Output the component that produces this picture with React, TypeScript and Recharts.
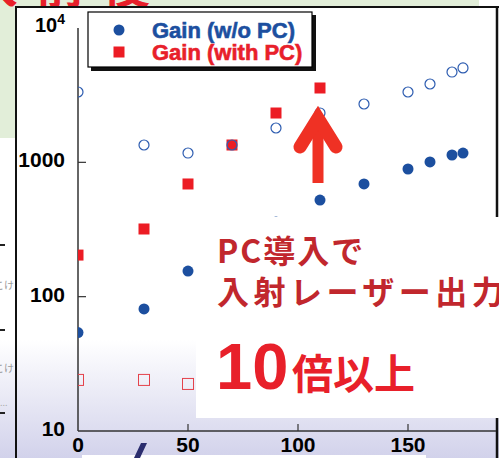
import React from 'react';
import { ScatterChart, Scatter, XAxis, YAxis } from 'recharts';

// pump power (x) and gain (y)
const filledBlueX = [0, 30, 50, 90, 110, 130, 150, 160, 170, 175];
const filledBlueY = [54, 81, 155, 359, 524, 690, 892, 1006, 1134, 1173];

const openBlueX = [0, 30, 50, 70, 90, 110, 130, 150, 160, 170, 175];
const openBlueY = [3339, 1346, 1173, 1346, 1801, 2330, 2718, 3339, 3829, 4702, 5041];

const filledRedX = [0, 30, 50, 70, 90, 110];
const filledRedY = [204, 319, 690, 1346, 2329, 3576];

const openRedX = [0, 30, 50];
const openRedY = [24, 24, 22.4];

const xTicks = [0, 50, 100, 150];
const yTicks = [10, 100, 1000, 10000];

const BLUE = '#1c4f9f';
const RED = '#ec1c24';
const W = 499;
const H = 458;

const toPoints = (xs: number[], ys: number[]) => xs.map((x, i) => ({ x, y: ys[i] }));

const FilledDot = (p: any) => <circle cx={p.cx} cy={p.cy} r={5.5} fill={BLUE} />;
const OpenDot = (p: any) => <circle cx={p.cx} cy={p.cy} r={5} fill="none" stroke="#2d5cb0" strokeWidth={1.2} />;
const FilledSquare = (p: any) => <rect x={p.cx - 5.5} y={p.cy - 5.5} width={11} height={11} fill={RED} />;
const OpenSquare = (p: any) => (
  <rect x={p.cx - 5.5} y={p.cy - 5.5} width={11} height={11} fill="none" stroke="#e4424b" strokeWidth={1} />
);

const labelFont = { fontFamily: '"Liberation Sans", Arial, sans-serif', fontWeight: 700 };

function YTick({ x, y, payload }: any) {
  const v = payload.value;
  if (v === 10000) {
    return (
      <text x={x - 13} y={y + 4} textAnchor="end" fontSize={20} fill="#000" style={labelFont}>
        10<tspan dy={-8} fontSize={14}>4</tspan>
      </text>
    );
  }
  return (
    <g>
      {v !== 10 && <line x1={x} x2={x + 8} y1={y} y2={y} stroke="#333" strokeWidth={1.2} />}
      <text x={x - 13} y={y + 5} textAnchor="end" fontSize={21} fill="#000" style={labelFont}>
        {v}
      </text>
    </g>
  );
}

function XTick({ x, y, payload }: any) {
  return (
    <g>
      {payload.value !== 0 && <line x1={x} x2={x} y1={y} y2={y - 7} stroke="#333" strokeWidth={1.2} />}
      <text x={x} y={y + 21} textAnchor="middle" fontSize={21} fill="#000" style={labelFont}>
        {payload.value}
      </text>
    </g>
  );
}

function TopTick({ x, y }: any) {
  return <line x1={x} x2={x} y1={y} y2={y + 7} stroke="#333" strokeWidth={1.2} />;
}

const jp = '"Noto Sans CJK JP", "Noto Sans", sans-serif';

export default function App() {
  return (
    <div style={{ position: 'absolute', left: 0, top: 0, width: W, height: H, overflow: 'hidden', background: '#fff' }}>
      <svg width={W} height={H} style={{ position: 'absolute', left: 0, top: 0 }}>
        <defs>
          <linearGradient id="lav" x1="0" y1="0" x2="0" y2="1">
            <stop offset="0" stopColor="#ffffff" />
            <stop offset="1" stopColor="#d2d2eb" />
          </linearGradient>
          <clipPath id="titleClip">
            <rect x={0} y={0} width={W} height={6.5} />
          </clipPath>
        </defs>
        <rect x={0} y={0} width={479} height={7} fill="#e2eed9" />
        <rect x={0} y={0} width={16} height={138} fill="#e2eed9" />
        <g clipPath="url(#titleClip)">
          <text x={-30} y={3} fontSize={48} fontWeight={700} fill="#e8202a" letterSpacing={18} style={{ fontFamily: jp }}>
            入前後
          </text>
        </g>
        <rect x={0} y={340} width={W} height={118} fill="url(#lav)" />
        <rect x={82} y={455} width={344} height={3} fill="#fff" />
        <polygon points="141,443 147,443 140,458 134,458" fill="#2b2d6e" />
        <rect x={0} y={244} width={5} height={2} fill="#222" />
        <rect x={0} y={329} width={5} height={2} fill="#222" />
        <rect x={0} y={412} width={5} height={2} fill="#222" />
        <text x={-6} y={289} fontSize={10} fill="#999" style={{ fontFamily: jp }}>こけ</text>
        <text x={-6} y={372} fontSize={10} fill="#999" style={{ fontFamily: jp }}>こけ</text>
        <text x={0} y={406} fontSize={10} fill="#aaa">...</text>
        <line x1={16} x2={16} y1={6} y2={H} stroke="#111" strokeWidth={2} />
        <line x1={15} x2={499} y1={7} y2={7} stroke="#111" strokeWidth={2} />
        <line x1={497} x2={497} y1={6} y2={H} stroke="#111" strokeWidth={2.5} />
      </svg>

      <div style={{ position: 'absolute', left: 0, top: 0 }}>
        <ScatterChart width={W} height={H} margin={{ top: 28, right: 3, bottom: 0, left: 0 }}>
          <XAxis
            type="number"
            dataKey="x"
            domain={[0, 190]}
            ticks={xTicks}
            height={27}
            axisLine={{ stroke: '#333', strokeWidth: 1.5 }}
            tickLine={false}
            tickSize={0}
            tickMargin={0}
            tick={<XTick />}
            allowDataOverflow
          />
          <XAxis
            xAxisId="top"
            orientation="top"
            type="number"
            domain={[0, 190]}
            ticks={[50, 100, 150]}
            height={0}
            axisLine={{ stroke: '#666', strokeWidth: 1.5 }}
            tickLine={false}
            tickSize={0}
            tickMargin={0}
            tick={<TopTick />}
          />
          <YAxis
            type="number"
            dataKey="y"
            scale="log"
            domain={[10, 10000]}
            ticks={yTicks}
            width={78}
            axisLine={{ stroke: '#333', strokeWidth: 1.5 }}
            tickLine={false}
            tickSize={0}
            tickMargin={0}
            tick={<YTick />}
            allowDataOverflow
          />
          <Scatter data={toPoints(filledRedX, filledRedY)} shape={FilledSquare} isAnimationActive={false} />
          <Scatter data={toPoints(openRedX, openRedY)} shape={OpenSquare} isAnimationActive={false} />
          <Scatter data={toPoints(filledBlueX, filledBlueY)} shape={FilledDot} isAnimationActive={false} />
          <Scatter data={toPoints(openBlueX, openBlueY)} shape={OpenDot} isAnimationActive={false} />
        </ScatterChart>
      </div>

      <svg width={W} height={H} style={{ position: 'absolute', left: 0, top: 0, pointerEvents: 'none' }}>
        <rect x={196} y={217} width={303} height={201} fill="#fff" />
        <text x={217} y={263} fontSize={32} fontWeight={700} fill="#c1272d" letterSpacing={2} style={{ fontFamily: jp }}>
          PC導入で
        </text>
        <text x={217} y={304} fontSize={32} fontWeight={700} fill="#c1272d" letterSpacing={4.5} style={{ fontFamily: jp }}>
          入射レーザー出力
        </text>
        <text x={216} y={389} fontSize={65} fill="#e8202a" style={labelFont}>
          10
        </text>
        <text x={292} y={389} fontSize={41} fontWeight={700} fill="#e8202a" style={{ fontFamily: jp }}>
          倍以上
        </text>

        <rect x={312.5} y={122} width={11} height={61} fill="#ef3124" />
        <polyline
          points="300,147 318,118 336,147"
          fill="none"
          stroke="#ef3124"
          strokeWidth={13}
          strokeLinecap="round"
          strokeLinejoin="miter"
        />

        <rect x={91} y={15} width={225} height={56} fill="#111" />
        <rect x={88} y={12} width={224} height={55} fill="#fff" stroke="#000" strokeWidth={1.2} />
        <circle cx={119} cy={30} r={5.5} fill={BLUE} />
        <rect x={113.5} y={46.5} width={11} height={11} fill={RED} />
        <text x={152} y={38} fontSize={22} fill={BLUE} stroke={BLUE} strokeWidth={0.6} style={labelFont}>
          Gain (w/o PC)
        </text>
        <text x={152} y={60} fontSize={22} fill="#e8202a" stroke="#e8202a" strokeWidth={0.6} style={labelFont}>
          Gain (with PC)
        </text>
      </svg>
    </div>
  );
}
